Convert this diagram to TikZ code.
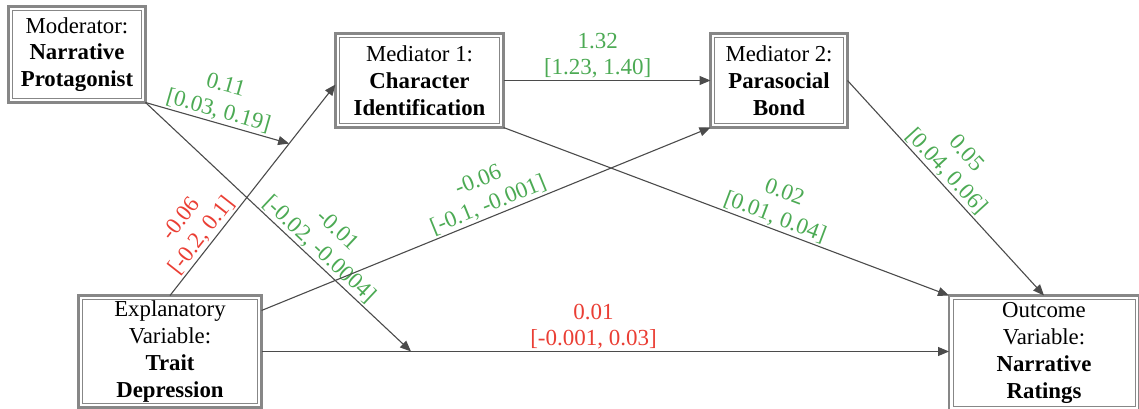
\documentclass[tikz,border=0pt]{standalone}
\usepackage{fontspec}
\setmainfont{Liberation Serif}
\usetikzlibrary{arrows.meta,calc}
\definecolor{grn}{RGB}{76,170,84}
\definecolor{rd}{RGB}{234,62,52}
\definecolor{bgray}{RGB}{135,135,135}
\definecolor{lgray}{RGB}{75,75,75}
\begin{document}
\begin{tikzpicture}[x=1pt,y=-1pt,
  varbox/.style={draw=bgray, line width=2.8pt, fill=white, align=center,
    inner sep=0pt, outer sep=0pt, font=\fontsize{22.8}{26.8}\selectfont},
  link/.style={draw=lgray, line width=1.1pt, -{Triangle[length=11pt,width=9pt]}},
  lab/.style={font=\fontsize{23}{26.5}\selectfont, align=center, inner sep=1.5pt},
]
\useasboundingbox (0,0) rectangle (1139,409);

\node[varbox, minimum width=137pt, minimum height=96pt] (mod) at (77,54.5)
  {Moderator:\\\textbf{Narrative}\\\textbf{Protagonist}};
\node[varbox, minimum width=168pt, minimum height=94pt] (med1) at (419.5,80.5)
  {Mediator 1:\\\textbf{Character}\\\textbf{Identification}};
\node[varbox, minimum width=137pt, minimum height=94pt] (med2) at (779,80.5)
  {Mediator 2:\\\textbf{Parasocial}\\\textbf{Bond}};
\node[varbox, minimum width=183pt, minimum height=112pt] (expl) at (170,351.5)
  {Explanatory\\Variable:\\\textbf{Trait}\\\textbf{Depression}};
\node[varbox, minimum width=190pt, minimum height=115pt] (out) at (1044,353)
  {Outcome\\Variable:\\\textbf{Narrative}\\\textbf{Ratings}};

\foreach \n in {mod,med1,med2,expl,out}
  \draw[bgray, line width=1pt] ([shift={(4pt,-4pt)}]\n.north west) rectangle ([shift={(-4pt,4pt)}]\n.south east);

\coordinate (m2a) at ([yshift=-4pt]med1.west);
\coordinate (e4s) at ([yshift=41pt]expl.east);
\coordinate (oin) at (expl.east -| out.west);
\path (expl.north) -- (m2a) coordinate[pos=0.72] (j1);
\path (expl.east) -- (oin) coordinate[pos=0.2175] (j2);

\draw[link] (expl.north) -- node[lab, text=rd, sloped, above, pos=0.25]{-0.06\\{}[-0.2, 0.1]} (m2a);
\draw[link] (mod.south east) -- node[lab, text=grn, sloped, above, pos=0.485]{0.11\\{}[0.03, 0.19]} (j1);
\draw[link] (mod.south east) -- node[lab, text=grn, sloped, above, pos=0.625]{-0.01\\{}[-0.02, -0.0004]} (j2);
\draw[link] (e4s) -- node[lab, text=grn, sloped, above, pos=0.515]{-0.06\\{}[-0.1, -0.001]} (med2.south west);
\draw[link] (med1.south east) -- node[lab, text=grn, sloped, above, pos=0.6]{0.02\\{}[0.01, 0.04]} (out.north west);
\draw[link] (med1.east) -- node[lab, text=grn, above, pos=0.455]{1.32\\{}[1.23, 1.40]} (med2.west);
\draw[link] (med2.east) -- node[lab, text=grn, sloped, above, pos=0.46]{0.05\\{}[0.04, 0.06]} (out.north);
\draw[link] (expl.east) -- node[lab, text=rd, above, pos=0.483]{0.01\\{}[-0.001, 0.03]} (oin);
\end{tikzpicture}
\end{document}
